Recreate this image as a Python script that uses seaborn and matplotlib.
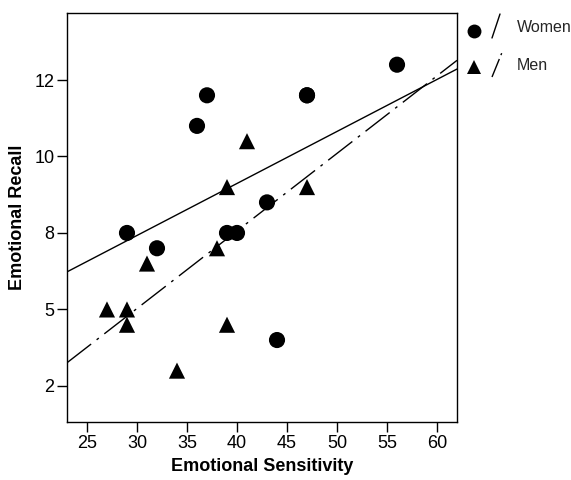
import numpy as np
import pandas as pd
import matplotlib
matplotlib.use("Agg")
import matplotlib.pyplot as plt
from matplotlib.lines import Line2D
import seaborn as sns

# data (two women overlap at 47 / 12)
women_sensitivity = [29, 32, 36, 37, 39, 40, 43, 44, 47, 47, 56]
women_recall = [7.5, 7.0, 11.0, 12.0, 7.5, 7.5, 8.5, 4.0, 12.0, 12.0, 13.0]
men_sensitivity = [27, 29, 29, 31, 34, 38, 39, 39, 41, 47]
men_recall = [5.0, 5.0, 4.5, 6.5, 3.0, 7.0, 9.0, 4.5, 10.5, 9.0]

x_ticks = [25, 30, 35, 40, 45, 50, 55, 60]
y_ticks = [2.5, 5, 7.5, 10, 12.5]
y_tick_labels = ["2", "5", "8", "10", "12"]

df = pd.DataFrame({
    "Emotional Sensitivity": women_sensitivity + men_sensitivity,
    "Emotional Recall": women_recall + men_recall,
    "Sex": ["Women"] * len(women_sensitivity) + ["Men"] * len(men_sensitivity),
})

sns.set_theme(style="white")
plt.rcParams["font.family"] = ["Liberation Sans", "DejaVu Sans"]

fig = plt.figure(figsize=(5.71, 4.8), dpi=100)
ax = fig.add_axes([0.1173, 0.1208, 0.6831, 0.8521])
ax.set_xlim(23, 62)
ax.set_ylim(1.32, 14.69)

dash_dot = (22, 5, 2, 5)
line_styles = {"Women": dict(color="black", lw=1),
               "Men": dict(color="black", lw=1, dashes=dash_dot)}

for sex in ["Women", "Men"]:
    sub = df[df["Sex"] == sex]
    sns.regplot(
        data=sub,
        x="Emotional Sensitivity",
        y="Emotional Recall",
        scatter=False,
        ci=None,
        truncate=False,
        line_kws=line_styles[sex],
        ax=ax
    )

sns.scatterplot(
    data=df,
    x="Emotional Sensitivity",
    y="Emotional Recall",
    style="Sex",
    markers={"Women": "o", "Men": "^"},
    color="black",
    s=135,
    edgecolor="none",
    legend=False,
    ax=ax
)

ax.set_xlim(23, 62)
ax.set_ylim(1.32, 14.69)
ax.set_xticks(x_ticks)
ax.set_yticks(y_ticks)
ax.set_yticklabels(y_tick_labels)
ax.tick_params(axis="both", direction="out", length=7, width=1,
               color="black", labelsize=13, labelcolor="black",
               bottom=True, left=True, pad=2)
for spine in ax.spines.values():
    spine.set_color("black")
    spine.set_linewidth(1)

ax.set_xlabel("Emotional Sensitivity", fontsize=13, fontweight="bold",
              color="black", labelpad=5)
ax.set_ylabel("Emotional Recall", fontsize=13, fontweight="bold",
              color="black", labelpad=6)

# legend: marker plus a short slanted line sample
W, H = 571, 480
def fx(px):
    return px / W
def fy(py):
    return 1 - py / H

fig.add_artist(Line2D([fx(474)], [fy(31)], marker="o", color="black",
                      markersize=10, markeredgewidth=0, linestyle="none"))
fig.add_artist(Line2D([fx(492), fx(500)], [fy(38), fy(14)],
                      color="black", lw=1))
fig.text(fx(517), fy(28), "Women", fontsize=11.5, va="center", ha="left")

fig.add_artist(Line2D([fx(474)], [fy(67)], marker="^", color="black",
                      markersize=10, markeredgewidth=0, linestyle="none"))
fig.add_artist(Line2D([fx(492), fx(503)], [fy(77), fy(50)],
                      color="black", lw=1, dashes=(14, 3, 1.5, 3)))
fig.text(fx(517), fy(66), "Men", fontsize=11.5, va="center", ha="left")

fig.savefig("out.png", dpi=100)
